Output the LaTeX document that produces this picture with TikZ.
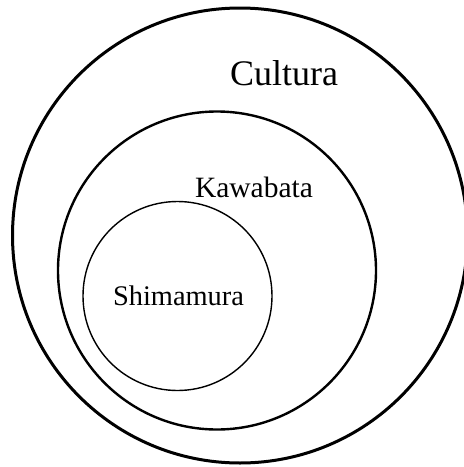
\documentclass[tikz,border=0pt]{standalone}
\usepackage{fontspec}
\setmainfont{Liberation Serif}
\usetikzlibrary{positioning}
\tikzset{
  ring/.style={circle,draw,inner sep=0pt},
  setlabel/.style={draw=none,rectangle,inner sep=0pt,anchor=base},
  every picture/.style={line cap=round,line join=round}
}

\begin{document}
\begin{tikzpicture}[x=1pt, y=-1pt]
    \useasboundingbox (0,0) rectangle (464,467);
    \node[ring, line width=3pt, minimum size=455pt] (cultura) at (240,235.5) {};
    \node[ring, line width=2.4pt, minimum size=318pt] (kawabata) at (217,270.5) {};
    \node[ring, line width=1.4pt, minimum size=189pt] (shimamura) at (177.5,296) {};

    \node[setlabel, font=\fontsize{36}{40}\selectfont] (tcultura) at (284,85) {Cultura};
    \node[setlabel, font=\fontsize{29.5}{33}\selectfont] (tkawabata) at (254,197) {Kawabata};
    \node[setlabel, font=\fontsize{28.4}{32}\selectfont] (tshimamura) at (178.5,305.5) {Shimamura};
\end{tikzpicture}
\end{document}
